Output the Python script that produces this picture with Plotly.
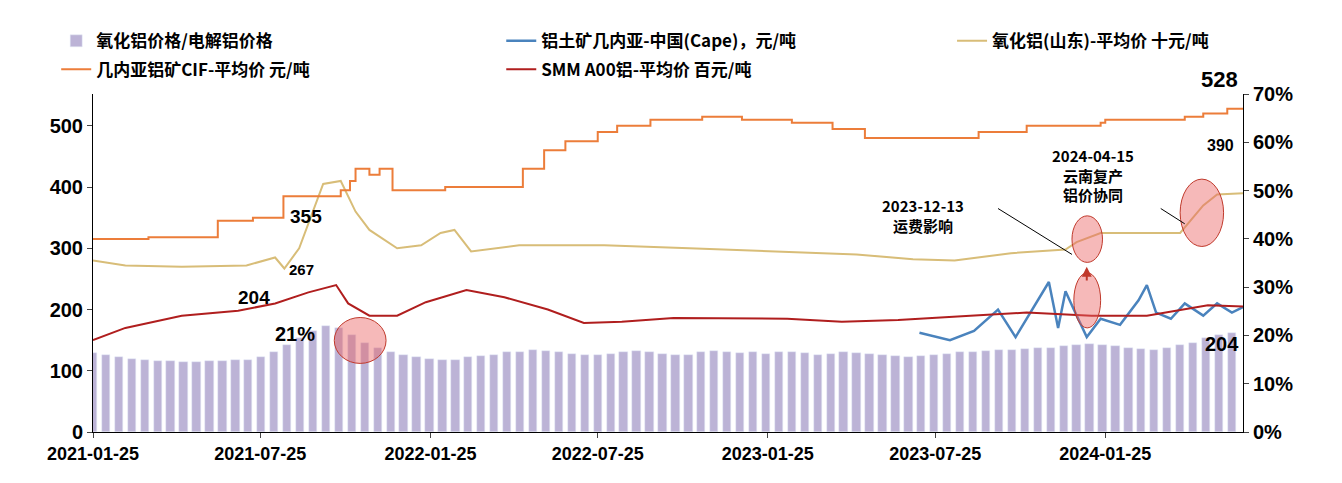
import pandas as pd
import plotly.graph_objects as go

# ratio alumina / aluminium, biweekly from 2021-01-25 (%)
ratio_pct = [16.3, 16.0, 15.5, 15.2, 15.0, 14.8, 14.8, 14.5, 14.6, 14.8, 14.8, 14.9, 15.0, 15.5,
             16.5, 18.0, 19.5, 21.0, 22.0, 21.5, 20.0, 18.5, 17.5, 16.5, 16.0,
             15.5, 15.2, 15.0, 15.0, 15.5, 15.8, 16.0, 16.5, 16.5, 17.0, 16.8, 16.5, 16.2, 16.0,
             16.0, 16.2, 16.5, 16.8, 16.5, 16.2, 16.0, 16.0, 16.5, 16.8, 16.5, 16.3,
             16.5, 16.2, 16.5, 16.5, 16.3, 16.0, 16.2, 16.5, 16.3, 16.2, 16.0, 15.8, 15.5,
             15.8, 16.0, 16.2, 16.5, 16.5, 16.8, 17.0, 17.0, 17.2, 17.5, 17.5, 17.8, 18.0,
             18.2, 18.0, 17.8, 17.5, 17.2, 17.0, 17.5, 18.0, 18.5, 19.5, 20.0, 20.5]
ratio_dates = pd.date_range("2021-01-25", periods=len(ratio_pct), freq="14D")

cif_dates = ["2021-01-25", "2021-03-26", "2021-06-09", "2021-07-17", "2021-08-19", "2021-10-20",
             "2021-10-30", "2021-11-05", "2021-11-20", "2021-12-01", "2021-12-15", "2022-02-10",
             "2022-05-05", "2022-05-28", "2022-06-20", "2022-07-25", "2022-08-15", "2022-09-20",
             "2022-11-15", "2022-12-28", "2023-02-20", "2023-04-05", "2023-05-10", "2023-09-10",
             "2023-11-01", "2024-01-20", "2024-01-25", "2024-04-20", "2024-05-10", "2024-06-05", "2024-06-22"]
cif_vals = [315, 318, 345, 350, 385, 395, 410, 430, 420, 430, 395, 400,
            430, 460, 475, 490, 500, 510, 515, 510, 505, 495, 480, 490,
            500, 505, 510, 515, 520, 528, 528]

alu_dates = ["2021-01-25", "2021-03-01", "2021-05-01", "2021-07-10", "2021-08-10", "2021-08-20",
             "2021-09-05", "2021-09-20", "2021-10-01", "2021-10-20", "2021-11-05", "2021-11-20",
             "2021-12-20", "2022-01-15", "2022-02-05", "2022-02-20", "2022-03-10", "2022-05-01",
             "2022-08-01", "2022-11-01", "2023-02-01", "2023-05-01", "2023-07-01", "2023-08-15",
             "2023-10-15", "2023-12-13", "2023-12-25", "2024-01-20", "2024-02-10", "2024-04-15",
             "2024-05-10", "2024-05-25", "2024-06-22"]
alu_vals = [280, 272, 270, 272, 285, 267, 300, 360, 405, 410, 360, 330,
            300, 305, 325, 330, 295, 305, 305, 300, 295, 290, 282, 280,
            292, 298, 310, 325, 325, 325, 370, 388, 390]

smm_dates = ["2021-01-25", "2021-03-01", "2021-05-01", "2021-07-01", "2021-08-10", "2021-09-15",
             "2021-10-15", "2021-10-28", "2021-11-20", "2021-12-20", "2022-01-20", "2022-03-05",
             "2022-04-15", "2022-06-01", "2022-07-10", "2022-08-20", "2022-10-15", "2022-12-15",
             "2023-02-15", "2023-04-15", "2023-06-15", "2023-09-01", "2023-11-01", "2024-01-10",
             "2024-03-10", "2024-05-15", "2024-06-22"]
smm_vals = [150, 170, 190, 198, 210, 228, 240, 210, 190, 190, 212, 232,
            220, 200, 178, 180, 186, 185, 185, 180, 183, 190, 195, 190,
            190, 207, 205]

cape_dates = ["2023-07-08", "2023-08-10", "2023-09-05", "2023-10-01", "2023-10-20", "2023-11-05",
              "2023-11-25", "2023-12-05", "2023-12-13", "2023-12-22", "2024-01-05", "2024-01-20",
              "2024-02-10", "2024-03-01", "2024-03-10", "2024-03-20", "2024-04-05", "2024-04-20",
              "2024-05-10", "2024-05-25", "2024-06-10", "2024-06-22"]
cape_vals = [162, 150, 165, 200, 155, 195, 245, 170, 230, 200, 155, 185,
             175, 215, 240, 195, 185, 210, 190, 210, 195, 204]

tick_dates = ["2021-01-25", "2021-07-25", "2022-01-25", "2022-07-25", "2023-01-25", "2023-07-25", "2024-01-25"]

fig = go.Figure()
fig.add_trace(go.Bar(x=ratio_dates, y=[v / 100 for v in ratio_pct], yaxis="y2", legend="legend", showlegend=True,
                     name="<b>氧化铝价格/电解铝价格</b>", marker_color="#bcb3d6", width=9 * 86400000))
fig.add_trace(go.Scatter(x=cape_dates, y=cape_vals, mode="lines", name="<b>铝土矿几内亚-中国(Cape)，元/吨</b>",
                         legend="legend2", line=dict(color="#4a83bd", width=2.5)))
fig.add_trace(go.Scatter(x=alu_dates, y=alu_vals, mode="lines", name="<b>氧化铝(山东)-平均价 十元/吨</b>",
                         legend="legend3", line=dict(color="#d8bd78", width=2)))
fig.add_trace(go.Scatter(x=cif_dates, y=cif_vals, mode="lines", line_shape="hv", legend="legend4",
                         name="<b>几内亚铝矿CIF-平均价 元/吨</b>", line=dict(color="#ec7d3a", width=2)))
fig.add_trace(go.Scatter(x=smm_dates, y=smm_vals, mode="lines", name="<b>SMM A00铝-平均价 百元/吨</b>",
                         legend="legend5", line=dict(color="#b01e1e", width=2)))

notes = [("2024-05-29", 468, "390", 16), ("2021-09-12", 352, "355", 19),
         ("2021-09-07", 265, "267", 15), ("2021-07-18", 220, "204", 19), ("2021-09-01", 160, "21%", 20),
         ("2024-05-30", 143, "204", 20)]
for x, y, t, s in notes:
    fig.add_annotation(x=x, y=y, text="<b>%s</b>" % t, showarrow=False, font=dict(family="Liberation Sans", size=s))
fig.add_annotation(x="2024-05-28", y=1.0, yref="paper", yanchor="bottom", text="<b>528</b>", showarrow=False,
                   font=dict(family="Liberation Sans", size=22))
fig.add_annotation(x="2023-07-12", y=353, text="<b>2023-12-13<br>运费影响</b>", showarrow=False,
                   font=dict(family="Noto Sans CJK SC", size=15))
fig.add_annotation(x="2024-01-12", y=420, text="<b>2024-04-15<br>云南复产<br>铝价协同</b>", showarrow=False,
                   font=dict(family="Noto Sans CJK SC", size=15))
for x0, x1, y0, y1 in [("2021-10-13", "2021-12-08", 112, 187), ("2023-12-20", "2024-01-22", 277, 353),
                       ("2023-12-22", "2024-01-20", 170, 260), ("2024-04-15", "2024-06-01", 303, 413)]:
    fig.add_shape(type="circle", x0=x0, x1=x1, y0=y0, y1=y1, fillcolor="rgba(235,100,100,0.45)",
                  line=dict(color="#c0392b", width=1))
fig.add_shape(type="line", x0="2023-10-01", y0=365, x1="2023-12-20", y1=290, line=dict(color="black", width=1))
fig.add_shape(type="line", x0="2024-03-25", y0=365, x1="2024-04-20", y1=340, line=dict(color="black", width=1))
fig.add_annotation(x="2024-01-05", y=270, ax="2024-01-05", ay=245, axref="x", ayref="y", text="",
                   showarrow=True, arrowhead=2, arrowcolor="#c0392b", arrowwidth=2)

leg_font = dict(size=17, family="Noto Sans CJK SC")
legend_pos = {"legend": (-0.032, 1.156), "legend2": (0.355, 1.156), "legend3": (0.747, 1.156),
              "legend4": (-0.032, 1.072), "legend5": (0.355, 1.072)}
for key, (lx, ly) in legend_pos.items():
    fig.update_layout({key: dict(x=lx, y=ly, xanchor="left", yanchor="middle", font=leg_font,
                                 bgcolor="rgba(0,0,0,0)")})

fig.update_layout(
    width=1342, height=483, margin=dict(l=85, r=107, t=86, b=59), showlegend=True,
    plot_bgcolor="white", paper_bgcolor="white", bargap=0,
    font=dict(family="Noto Sans CJK SC", color="black"),
    xaxis=dict(range=["2021-01-25", "2024-06-22"], tickvals=tick_dates, ticktext=["<b>%s</b>" % t for t in tick_dates],
               tickfont=dict(family="Liberation Sans", size=18), showline=True, linecolor="black",
               ticks="outside", showgrid=False),
    yaxis=dict(range=[0, 552], tickvals=[0, 100, 200, 300, 400, 500],
               ticktext=["<b>%d</b>" % v for v in [0, 100, 200, 300, 400, 500]],
               tickfont=dict(family="Liberation Sans", size=20),
               showline=True, linecolor="black", ticks="outside", showgrid=False),
    yaxis2=dict(range=[0, 0.70], overlaying="y", side="right", tickvals=[i / 10 for i in range(8)],
                ticktext=["<b>%d%%</b>" % (i * 10) for i in range(8)],
                tickfont=dict(family="Liberation Sans", size=20), showline=True, linecolor="black",
                ticks="outside", showgrid=False),
)
fig.write_html("out.html")
